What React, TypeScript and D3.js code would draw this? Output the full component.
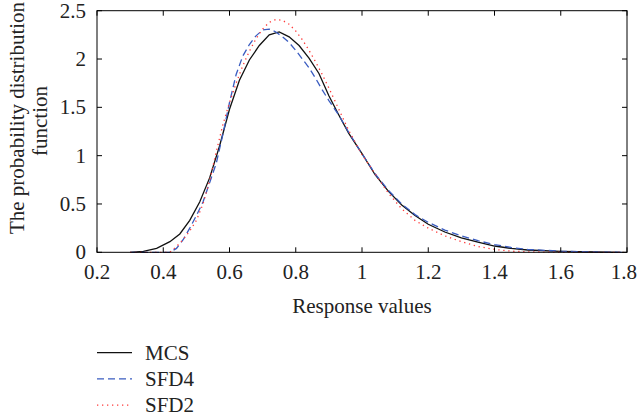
import React from "react";
import * as d3 from "d3";

const xTicks = [0.2, 0.4, 0.6, 0.8, 1, 1.2, 1.4, 1.6, 1.8];
const yTicks = [0, 0.5, 1, 1.5, 2, 2.5];

const mcsX = [0.30,0.34,0.38,0.42,0.45,0.48,0.51,0.54,0.57,0.60,0.63,0.66,0.69,0.72,0.75,0.78,0.81,0.84,0.87,0.90,0.93,0.96,1.00,1.04,1.08,1.12,1.16,1.20,1.25,1.30,1.35,1.40,1.45,1.50,1.60,1.70,1.78];
const mcsY = [0,0.01,0.04,0.11,0.19,0.33,0.52,0.77,1.10,1.48,1.78,1.99,2.14,2.25,2.28,2.23,2.14,2.01,1.85,1.62,1.42,1.23,1.02,0.80,0.63,0.49,0.38,0.29,0.21,0.15,0.105,0.065,0.04,0.024,0.01,0.003,0];

const sfd4X = [0.30,0.42,0.44,0.46,0.48,0.50,0.52,0.54,0.56,0.58,0.60,0.62,0.64,0.66,0.68,0.70,0.72,0.74,0.76,0.78,0.80,0.82,0.84,0.86,0.88,0.90,0.93,0.96,1.00,1.04,1.08,1.12,1.16,1.20,1.25,1.30,1.35,1.40,1.45,1.50,1.60,1.70,1.79];
const sfd4Y = [0,0,0.04,0.13,0.25,0.38,0.52,0.72,0.92,1.22,1.55,1.84,2.03,2.15,2.24,2.30,2.31,2.28,2.23,2.17,2.09,2.00,1.91,1.80,1.68,1.57,1.42,1.24,1.02,0.81,0.64,0.50,0.39,0.31,0.23,0.17,0.12,0.08,0.05,0.03,0.012,0.003,0];

const sfd2X = [0.30,0.42,0.44,0.46,0.48,0.50,0.52,0.54,0.56,0.58,0.60,0.62,0.64,0.66,0.68,0.70,0.72,0.74,0.76,0.78,0.80,0.82,0.84,0.86,0.88,0.90,0.93,0.96,1.00,1.04,1.08,1.12,1.16,1.20,1.25,1.30,1.35,1.40,1.45,1.50,1.60,1.79];
const sfd2Y = [0,0,0.06,0.13,0.22,0.33,0.50,0.74,1.04,1.32,1.55,1.75,1.93,2.08,2.21,2.31,2.38,2.41,2.40,2.36,2.29,2.20,2.09,1.97,1.84,1.70,1.48,1.26,1.01,0.81,0.61,0.45,0.33,0.25,0.17,0.11,0.06,0.03,0.012,0.005,0,0];

const seriesNames = ["MCS", "SFD4", "SFD2"];

const W = 638, H = 419;
const M = { left: 97, right: 627, top: 10.7, bottom: 252.3 };
const FONT = "'Liberation Serif', 'Times New Roman', serif";
const FS = 21;

export default function App() {
  const x = d3.scaleLinear().domain([0.2, 1.8]).range([M.left, M.right]);
  const y = d3.scaleLinear().domain([0, 2.5]).range([M.bottom, M.top]);
  const line = d3.line<[number, number]>().x(d => x(d[0])).y(d => y(d[1]));
  const zip = (xs: number[], ys: number[]) => xs.map((v, i) => [v, ys[i]] as [number, number]);

  const styles = [
    { stroke: "#111", dash: undefined as string | undefined, width: 1.3 },
    { stroke: "#3a5cc0", dash: "7,4", width: 1.3 },
    { stroke: "#ff3a3a", dash: "1.3,3.7", width: 1.3 },
  ];
  const data = [zip(mcsX, mcsY), zip(sfd4X, sfd4Y), zip(sfd2X, sfd2Y)];
  const tl = 5;

  return (
    <svg width={W} height={H} style={{ position: "absolute", left: 0, top: 0, background: "#fff" }} fontFamily={FONT}>
      <rect x={0} y={0} width={W} height={H} fill="#fff" />
      {data.map((d, i) => (
        <path key={i} d={line(d) || ""} fill="none" stroke={styles[i].stroke}
          strokeWidth={styles[i].width} strokeDasharray={styles[i].dash} />
      ))}
      <rect x={M.left} y={M.top} width={M.right - M.left} height={M.bottom - M.top} fill="none" stroke="#000" strokeWidth={1} />
      {xTicks.map(t => {
        const px = x(t);
        const clamp = px + 13 > W - 1;
        return (
          <g key={"x" + t}>
            <line x1={px} x2={px} y1={M.bottom} y2={M.bottom - tl} stroke="#000" />
            <line x1={px} x2={px} y1={M.top} y2={M.top + tl} stroke="#000" />
            <text x={clamp ? W - 1 : px} y={279} textAnchor={clamp ? "end" : "middle"} fontSize={FS} fill="#222">{String(t)}</text>
          </g>
        );
      })}
      {yTicks.map(t => (
        <g key={"y" + t}>
          <line x1={M.left} x2={M.left + tl} y1={y(t)} y2={y(t)} stroke="#000" />
          <line x1={M.right} x2={M.right - tl} y1={y(t)} y2={y(t)} stroke="#000" />
          <text x={86} y={y(t)} dy="0.33em" textAnchor="end" fontSize={FS} fill="#222">{String(t)}</text>
        </g>
      ))}
      <text x={(M.left + M.right) / 2} y={313} textAnchor="middle" fontSize={FS} fill="#222">Response values</text>
      <text transform="translate(24,118) rotate(-90)" textAnchor="middle" fontSize={FS} fill="#222">The probability distribution</text>
      <text transform="translate(47,121) rotate(-90)" textAnchor="middle" fontSize={FS} fill="#222">function</text>
      {seriesNames.map((n, i) => {
        const ly = 352.7 + i * 26.2;
        return (
          <g key={n}>
            <line x1={97} x2={132} y1={ly} y2={ly} stroke={styles[i].stroke} strokeWidth={styles[i].width} strokeDasharray={styles[i].dash} />
            <text x={145} y={ly} dy="0.35em" fontSize={FS} fill="#222">{n}</text>
          </g>
        );
      })}
    </svg>
  );
}
